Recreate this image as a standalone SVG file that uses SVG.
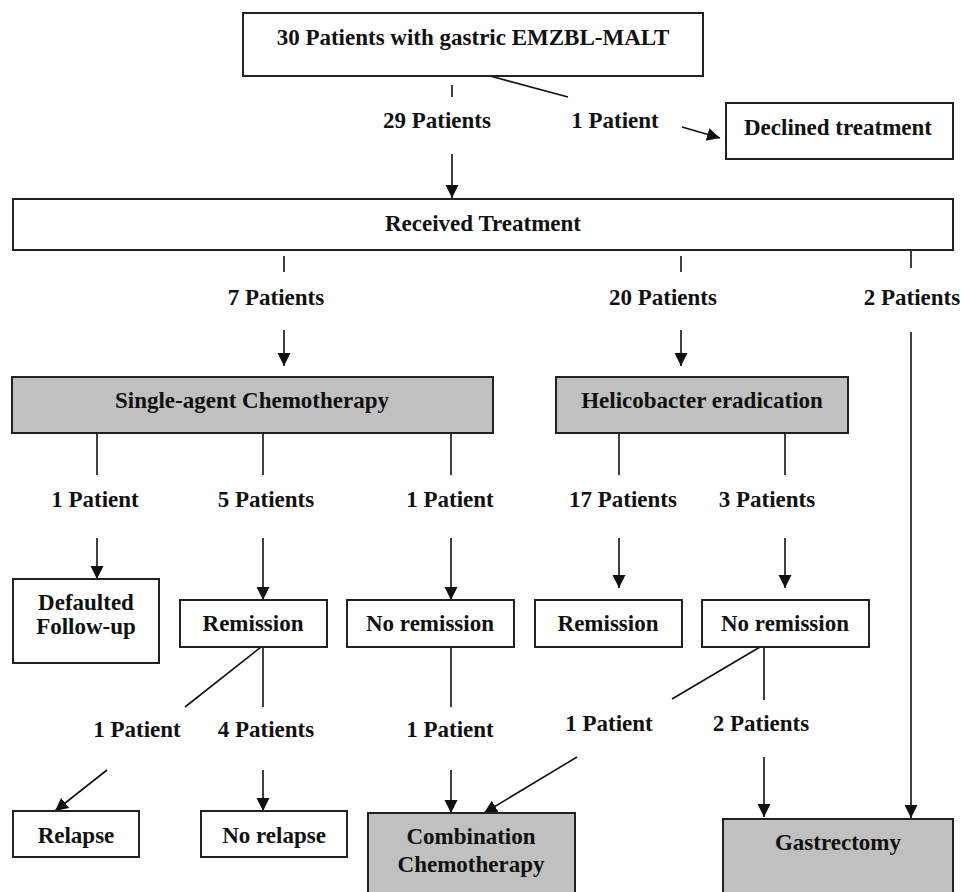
<svg xmlns="http://www.w3.org/2000/svg" width="962" height="892" viewBox="0 0 962 892">
<style>
text{font-family:"Liberation Serif","Times New Roman",serif;font-weight:bold;font-size:23px;fill:#111;text-anchor:middle}
.box{fill:#fff;stroke:#222;stroke-width:2}
.gray{fill:#c0c0c0;stroke:#222;stroke-width:2}
.ln{stroke:#111;stroke-width:1.6;fill:none}
.ar{stroke:#111;stroke-width:1.6;fill:none;marker-end:url(#ah)}
</style>
<defs>
<marker id="ah" markerUnits="userSpaceOnUse" markerWidth="14" markerHeight="14" refX="13" refY="6.5" orient="auto">
<path d="M0,0 L13,6.5 L0,13 z" fill="#111"/>
</marker>
</defs>
<rect width="962" height="892" fill="#fff"/>
<g id="connectors">
<line class="ln" x1="452" y1="85" x2="452" y2="97"/>
<line class="ln" x1="490" y1="76" x2="568" y2="97"/>
<line class="ar" x1="682" y1="127" x2="720" y2="138"/>
<line class="ar" x1="452" y1="154" x2="452" y2="198"/>
<line class="ln" x1="284" y1="256" x2="284" y2="272"/>
<line class="ar" x1="284" y1="330" x2="284" y2="366"/>
<line class="ln" x1="681" y1="256" x2="681" y2="272"/>
<line class="ar" x1="681" y1="330" x2="681" y2="366"/>
<line class="ln" x1="911" y1="250" x2="911" y2="268"/>
<line class="ar" x1="911" y1="332" x2="911" y2="818"/>
<line class="ln" x1="97" y1="433" x2="97" y2="475"/>
<line class="ln" x1="263" y1="433" x2="263" y2="475"/>
<line class="ln" x1="451" y1="433" x2="451" y2="475"/>
<line class="ln" x1="619" y1="433" x2="619" y2="475"/>
<line class="ln" x1="785" y1="433" x2="785" y2="475"/>
<line class="ar" x1="97" y1="538" x2="97" y2="579"/>
<line class="ar" x1="263" y1="538" x2="263" y2="600"/>
<line class="ar" x1="451" y1="538" x2="451" y2="600"/>
<line class="ar" x1="619" y1="538" x2="619" y2="588"/>
<line class="ar" x1="785" y1="538" x2="785" y2="588"/>
<line class="ln" x1="261" y1="647" x2="185" y2="707"/>
<line class="ln" x1="263" y1="647" x2="263" y2="707"/>
<line class="ar" x1="107" y1="770" x2="55" y2="811"/>
<line class="ar" x1="263" y1="770" x2="263" y2="811"/>
<line class="ln" x1="451" y1="647" x2="451" y2="707"/>
<line class="ar" x1="451" y1="770" x2="451" y2="813"/>
<line class="ln" x1="760" y1="647" x2="672" y2="699"/>
<line class="ln" x1="764" y1="647" x2="764" y2="700"/>
<line class="ar" x1="577" y1="757" x2="484" y2="813"/>
<line class="ar" x1="764" y1="757" x2="764" y2="817"/>
</g>
<g id="labels">
<text x="437" y="128">29 Patients</text>
<text x="615" y="128">1 Patient</text>
<text x="276" y="305">7 Patients</text>
<text x="663" y="305">20 Patients</text>
<text x="912" y="305">2 Patients</text>
<text x="95" y="507">1 Patient</text>
<text x="266" y="507">5 Patients</text>
<text x="450" y="507">1 Patient</text>
<text x="623" y="507">17 Patients</text>
<text x="767" y="507">3 Patients</text>
<text x="137" y="737">1 Patient</text>
<text x="266" y="737">4 Patients</text>
<text x="450" y="737">1 Patient</text>
<text x="609" y="731">1 Patient</text>
<text x="761" y="731">2 Patients</text>
</g>
<g id="n-start"><rect class="box" x="243" y="13" width="460" height="63"/><text x="473" y="45">30 Patients with gastric EMZBL-MALT</text></g>
<g id="n-declined"><rect class="box" x="726" y="103" width="227" height="56"/><text x="838" y="135">Declined treatment</text></g>
<g id="n-received"><rect class="box" x="13" y="199" width="940" height="51"/><text x="483" y="231">Received Treatment</text></g>
<g id="n-single"><rect class="gray" x="12" y="377" width="481" height="56"/><text x="252" y="408">Single-agent Chemotherapy</text></g>
<g id="n-helico"><rect class="gray" x="556" y="377" width="292" height="56"/><text x="702" y="408">Helicobacter eradication</text></g>
<g id="n-defaulted"><rect class="box" x="13" y="579" width="146" height="84"/><text x="86" y="610">Defaulted</text><text x="86" y="634">Follow-up</text></g>
<g id="n-remission1"><rect class="box" x="180" y="600" width="147" height="47"/><text x="253" y="631">Remission</text></g>
<g id="n-noremission1"><rect class="box" x="347" y="600" width="167" height="47"/><text x="430" y="631">No remission</text></g>
<g id="n-remission2"><rect class="box" x="535" y="600" width="147" height="47"/><text x="608" y="631">Remission</text></g>
<g id="n-noremission2"><rect class="box" x="702" y="600" width="167" height="47"/><text x="785" y="631">No remission</text></g>
<g id="n-relapse"><rect class="box" x="13" y="811" width="126" height="46"/><text x="76" y="843">Relapse</text></g>
<g id="n-norelapse"><rect class="box" x="201" y="811" width="146" height="46"/><text x="274" y="843">No relapse</text></g>
<g id="n-combination"><rect class="gray" x="368" y="813" width="207" height="90"/><text x="471" y="844">Combination</text><text x="471" y="872">Chemotherapy</text></g>
<g id="n-gastrectomy"><rect class="gray" x="723" y="819" width="230" height="84"/><text x="838" y="850">Gastrectomy</text></g>
</svg>
